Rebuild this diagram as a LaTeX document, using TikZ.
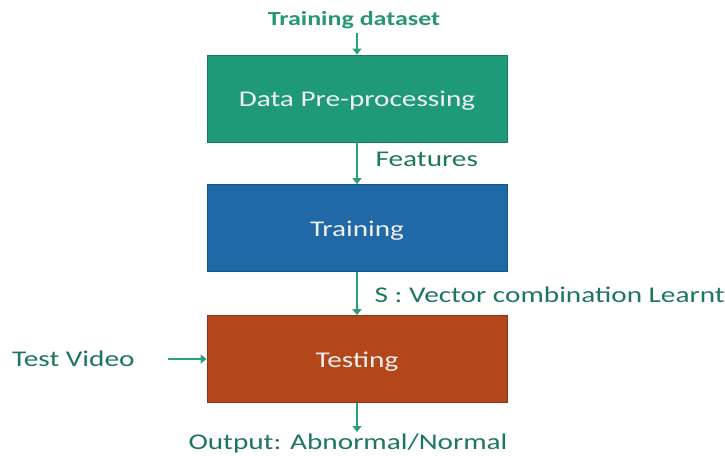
\documentclass[tikz,border=0pt]{standalone}
\usepackage{fontspec}
\setmainfont{Carlito}
\usetikzlibrary{arrows.meta}

\definecolor{boxgreen}{RGB}{31,154,120}
\definecolor{boxgreenline}{RGB}{24,122,95}
\definecolor{boxblue}{RGB}{30,105,166}
\definecolor{boxblueline}{RGB}{24,84,136}
\definecolor{boxorange}{RGB}{180,71,26}
\definecolor{boxorangeline}{RGB}{140,54,18}
\definecolor{flowline}{RGB}{44,160,122}
\definecolor{labeltext}{RGB}{30,118,96}
\definecolor{headtext}{RGB}{38,150,116}

% horizontally widened lettering
\newcommand{\widetxt}[1]{\scalebox{1.3}[1]{#1}}
% widened lettering set a little lower inside its box
\newcommand{\lowtxt}[1]{\raisebox{-2.5pt}[\height][\depth]{\widetxt{#1}}}

\begin{document}
\begin{tikzpicture}[x=1pt,y=-1pt,
  stage/.style={minimum width=300pt,minimum height=87pt,inner sep=0pt,
    text=white!94!black,font=\fontsize{22.5}{25}\selectfont,line width=0.8pt},
  lbl/.style={inner sep=0pt,text=labeltext,font=\fontsize{22.5}{25}\selectfont},
  flow/.style={draw=flowline,line width=1.3pt,
    -{Triangle[length=6pt,width=9pt]}}]
  \useasboundingbox (0,0) rectangle (725,455);

  % processing stages
  \node[stage,fill=boxgreen,draw=boxgreenline] (prep) at (357,98.5) {\lowtxt{Data Pre-processing}};
  \node[stage,fill=boxblue,draw=boxblueline] (train) at (357,228) {\lowtxt{Training}};
  \node[stage,fill=boxorange,draw=boxorangeline] (test) at (357,359) {\lowtxt{Testing}};

  % inputs and outputs
  \node[inner sep=0pt,text=headtext,font=\bfseries\fontsize{20}{22}\selectfont] (data) at (354,20) {\widetxt{Training dataset}};
  \node[lbl,anchor=west] (video) at (12,359) {\widetxt{Test Video}};
  \node[lbl] (out) at (348,443.5) {\widetxt{Output: Abnormal/Normal}};
  \coordinate (vidend) at (168,359);
  \coordinate (dataend) at (357,33);
  \coordinate (outend) at (357,432);

  % connectors
  \draw[flow] (dataend) -- (prep.north);
  \draw[flow] (prep.south) -- node[lbl,anchor=west,xshift=18pt,yshift=3.5pt] (feat) {\widetxt{Features}} (train.north);
  \draw[flow] (train.south) -- node[lbl,anchor=west,xshift=17pt,yshift=-1.5pt] (vec) {\widetxt{S : Vector combination Learnt}} (test.north);
  \draw[flow] (vidend) -- (test.west |- vidend);
  \draw[flow] (test.south) -- (outend);
\end{tikzpicture}
\end{document}
